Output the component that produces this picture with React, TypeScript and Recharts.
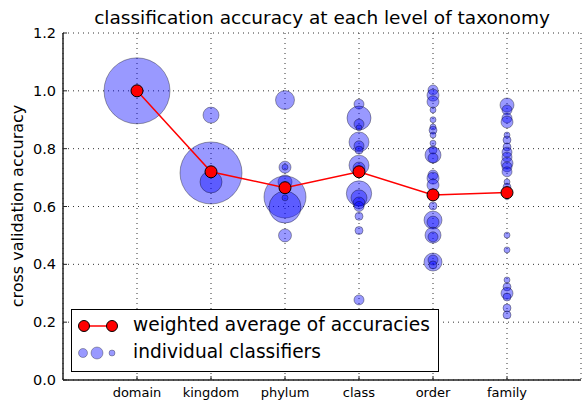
import React from "react";
import { ScatterChart, Scatter, XAxis, YAxis, ZAxis, CartesianGrid } from "recharts";

const levels = ["domain", "kingdom", "phylum", "class", "order", "family"];
const weightedAverage = [1.0, 0.72, 0.665, 0.72, 0.64, 0.648];
const yTicks = [0, 0.2, 0.4, 0.6, 0.8, 1.0, 1.2];

// individual classifiers per level: [accuracy, relative size]
const domainClassifiers = [[1.0, 1089]];
const kingdomClassifiers = [[0.916, 64], [0.716, 961], [0.685, 121]];
const phylumClassifiers = [
  [0.968, 90], [0.736, 36], [0.736, 9], [0.685, 49], [0.66, 16],
  [0.633, 441], [0.598, 256], [0.63, 9], [0.5, 42],
];
const classClassifiers = [
  [0.954, 25], [0.906, 144], [0.885, 25], [0.872, 9], [0.823, 100],
  [0.81, 25], [0.795, 16], [0.743, 100], [0.733, 36], [0.72, 25],
  [0.645, 160], [0.63, 64], [0.612, 36], [0.6, 25], [0.566, 16],
  [0.517, 16], [0.277, 25],
];
const orderClassifiers = [
  [1.003, 25], [0.985, 36], [0.962, 36], [0.934, 9], [0.9, 9],
  [0.875, 9], [0.864, 16], [0.847, 9], [0.819, 9], [0.795, 16],
  [0.778, 64], [0.768, 25], [0.709, 25], [0.698, 36], [0.674, 36],
  [0.602, 16], [0.553, 81], [0.546, 36], [0.501, 64], [0.495, 25],
  [0.408, 81], [0.415, 25], [0.398, 16],
];
const familyClassifiers = [
  [0.951, 49], [0.934, 25], [0.906, 25], [0.892, 36], [0.847, 9],
  [0.83, 16], [0.806, 16], [0.788, 25], [0.771, 25], [0.75, 36],
  [0.737, 25], [0.72, 25], [0.685, 9], [0.667, 16], [0.63, 4],
  [0.501, 9], [0.45, 9], [0.346, 9], [0.322, 16], [0.3, 36],
  [0.287, 16], [0.249, 16], [0.225, 16],
];

const classifiersByLevel = [
  domainClassifiers,
  kingdomClassifiers,
  phylumClassifiers,
  classClassifiers,
  orderClassifiers,
  familyClassifiers,
];

const bubbleData = classifiersByLevel.flatMap((list, i) =>
  list.map(([acc, n]) => ({ x: i + 1, y: acc, n }))
);
const averageData = weightedAverage.map((v, i) => ({ x: i + 1, y: v }));

const FONT = "'DejaVu Sans', sans-serif";
const SPINE = "#222";

const BottomTick = (props: any) => {
  const { x, y, payload } = props;
  return (
    <g>
      <line x1={x} y1={y} x2={x} y2={y - 4} stroke={SPINE} strokeWidth={1} />
      <text x={x} y={y + 17} textAnchor="middle" fontSize={13} fontFamily={FONT} fill="#000">
        {levels[payload.value - 1]}
      </text>
    </g>
  );
};

const TopTick = (props: any) => {
  const { x, y } = props;
  return <line x1={x} y1={y} x2={x} y2={y + 4} stroke={SPINE} strokeWidth={1} />;
};

const LeftTick = (props: any) => {
  const { x, y, payload } = props;
  return (
    <g>
      <line x1={x} y1={y} x2={x + 4} y2={y} stroke={SPINE} strokeWidth={1} />
      <text x={x - 7} y={y + 5} textAnchor="end" fontSize={14.5} fontFamily={FONT} fill="#000">
        {payload.value.toFixed(1)}
      </text>
    </g>
  );
};

const AverageDot = (props: any) => {
  const { cx, cy } = props;
  return <circle cx={cx} cy={cy} r={6} fill="#ff0000" stroke="#000" strokeWidth={1} />;
};

const LegendBox = () => (
  <div
    style={{
      position: "absolute",
      left: 71,
      top: 309,
      width: 366,
      height: 61,
      border: "1.5px solid #000",
      background: "#fff",
      fontFamily: FONT,
      fontSize: 18.6,
    }}
  >
    <svg width={60} height={61} style={{ position: "absolute", left: 0, top: 0 }}>
      <line x1={12} y1={16} x2={40} y2={16} stroke="#ff0000" strokeWidth={1.5} />
      <circle cx={12} cy={16} r={5.5} fill="#ff0000" stroke="#000" />
      <circle cx={40} cy={16} r={5.5} fill="#ff0000" stroke="#000" />
      <circle cx={11} cy={43} r={4.5} fill="#0000ff" fillOpacity={0.4} stroke="#000" strokeOpacity={0.3} />
      <circle cx={25} cy={43} r={6} fill="#0000ff" fillOpacity={0.4} stroke="#000" strokeOpacity={0.3} />
      <circle cx={40} cy={43} r={3} fill="#0000ff" fillOpacity={0.4} stroke="#000" strokeOpacity={0.3} />
    </svg>
    <div style={{ position: "absolute", left: 61, top: 4, whiteSpace: "nowrap" }}>
      weighted average of accuracies
    </div>
    <div style={{ position: "absolute", left: 61, top: 31, whiteSpace: "nowrap" }}>
      individual classifiers
    </div>
  </div>
);

const App = () => {
  return (
    <div
      style={{
        position: "absolute",
        left: 0,
        top: 0,
        width: 582,
        height: 400,
        background: "#fff",
        fontFamily: FONT,
      }}
    >
      <div
        style={{
          position: "absolute",
          left: 0,
          width: 644,
          top: 7,
          textAlign: "center",
          fontSize: 18.5,
          lineHeight: "22px",
          whiteSpace: "nowrap",
        }}
      >
        classification accuracy at each level of taxonomy
      </div>
      <div
        style={{
          position: "absolute",
          left: 17,
          top: 206,
          fontSize: 16,
          whiteSpace: "nowrap",
          transform: "translate(-50%, -50%) rotate(-90deg)",
        }}
      >
        cross validation accuracy
      </div>
      <ScatterChart
        width={582}
        height={400}
        margin={{ top: 33, right: 1, bottom: 0, left: 0 }}
      >
        <CartesianGrid stroke="#333" strokeDasharray="1 4" strokeWidth={1} />
        <XAxis
          type="number"
          dataKey="x"
          domain={[0, 7]}
          ticks={[1, 2, 3, 4, 5, 6]}
          height={20}
          tickSize={0}
          tickMargin={0}
          tickLine={false}
          tick={<BottomTick />}
          axisLine={{ stroke: SPINE, strokeWidth: 1.5 }}
        />
        <XAxis
          xAxisId="top"
          orientation="top"
          type="number"
          dataKey="x"
          domain={[0, 7]}
          ticks={[1, 2, 3, 4, 5, 6]}
          height={0}
          tickSize={0}
          tickMargin={0}
          tickLine={false}
          tick={<TopTick />}
          axisLine={{ stroke: SPINE, strokeWidth: 1.5 }}
        />
        <YAxis
          type="number"
          dataKey="y"
          domain={[0, 1.2]}
          ticks={yTicks}
          width={63}
          tickSize={0}
          tickMargin={0}
          tickLine={false}
          tick={<LeftTick />}
          axisLine={{ stroke: SPINE, strokeWidth: 1.5 }}
        />
        <ZAxis type="number" dataKey="n" domain={[0, 1100]} range={[0, Math.PI * 1100]} />
        <Scatter
          data={bubbleData}
          fill="#0000ff"
          fillOpacity={0.4}
          stroke="#000"
          strokeOpacity={0.35}
          strokeWidth={1}
          isAnimationActive={false}
        />
        <Scatter
          data={averageData}
          line={{ stroke: "#ff0000", strokeWidth: 1.5 }}
          lineType="joint"
          shape={<AverageDot />}
          isAnimationActive={false}
        />
      </ScatterChart>
      <LegendBox />
    </div>
  );
};

export default App;
